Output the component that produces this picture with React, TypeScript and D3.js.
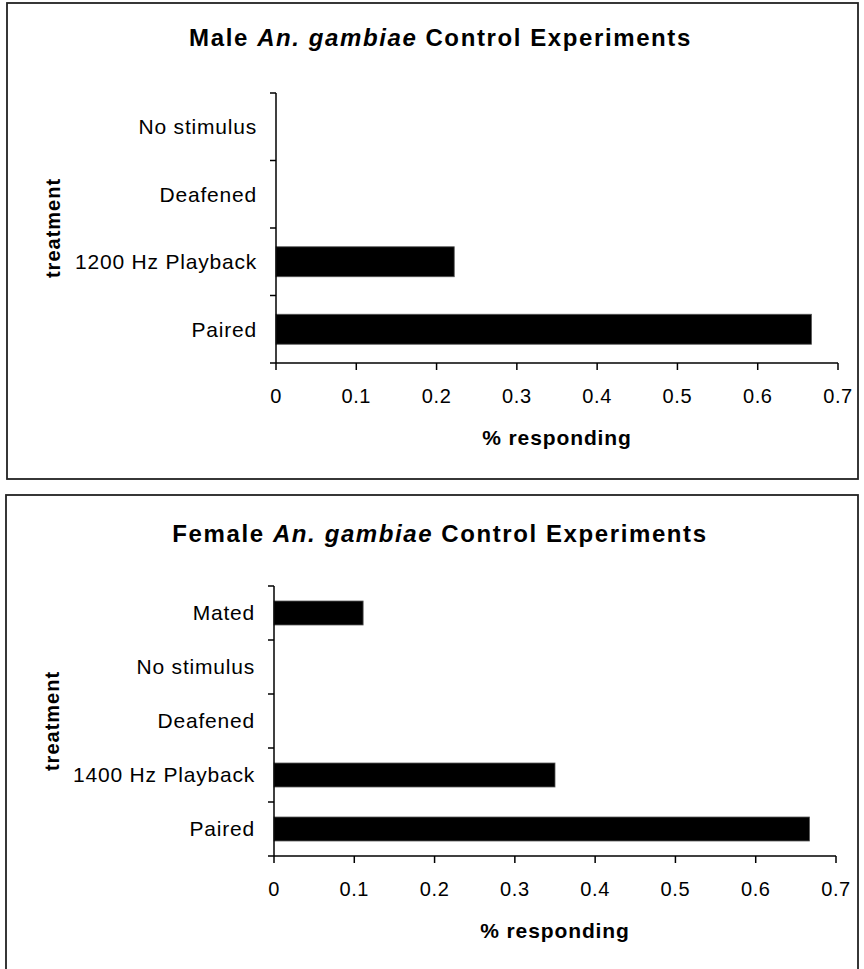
import React from 'react';
import * as d3 from 'd3';

const maleCategories = ['No stimulus', 'Deafened', '1200 Hz Playback', 'Paired'];
const maleValues = [0, 0, 0.222, 0.667];
const femaleCategories = ['Mated', 'No stimulus', 'Deafened', '1400 Hz Playback', 'Paired'];
const femaleValues = [0.111, 0, 0, 0.35, 0.667];
const xTickValues = [0, 0.1, 0.2, 0.3, 0.4, 0.5, 0.6, 0.7];
const xTitle = '% responding';
const yTitle = 'treatment';
const maleTitle = 'Male';
const femaleTitle = 'Female';
const speciesName = 'An. gambiae';
const titleRest = 'Control Experiments';

const FONT = '"Liberation Sans", Arial, sans-serif';

type PanelProps = {
  box: { x: number; y: number; w: number; h: number };
  plot: { x0: number; x1: number; y0: number; y1: number };
  titleY: number;
  sex: string;
  categories: string[];
  values: number[];
};

function Panel({ box, plot, titleY, sex, categories, values }: PanelProps) {
  const x = d3.scaleLinear().domain([0, 0.7]).range([plot.x0, plot.x1]);
  const y = d3
    .scaleBand<string>()
    .domain(categories)
    .range([plot.y0, plot.y1])
    .paddingInner(0.556)
    .paddingOuter(0.278);
  const step = (plot.y1 - plot.y0) / categories.length;
  const boundaries = d3.range(categories.length + 1).map((i) => plot.y0 + i * step);
  const cx = (box.x + box.x + box.w) / 2 + 8;
  return (
    <g>
      <rect x={box.x} y={box.y} width={box.w} height={box.h} fill="#fff" stroke="#222" strokeWidth={1.8} />
      <text x={cx} y={titleY} textAnchor="middle" fontFamily={FONT} fontWeight="bold" fontSize={24} letterSpacing={1.6} fill="#000">
        {sex + ' '}
        <tspan fontStyle="italic">{speciesName}</tspan>
        <tspan dx={8}>{titleRest}</tspan>
      </text>
      {categories.map((c, i) => (
        <rect key={c} x={x(0)} y={y(c)} width={x(values[i]) - x(0)} height={y.bandwidth()} fill="#000" stroke="#555" strokeWidth={0.8} />
      ))}
      <line x1={plot.x0} x2={plot.x0} y1={plot.y0} y2={plot.y1} stroke="#000" strokeWidth={1.5} />
      {boundaries.map((b, i) => (
        <line key={i} x1={plot.x0 - 6} x2={plot.x0} y1={b} y2={b} stroke="#000" strokeWidth={1.5} />
      ))}
      <line x1={plot.x0} x2={plot.x1} y1={plot.y1} y2={plot.y1} stroke="#000" strokeWidth={1.5} />
      {xTickValues.map((t) => (
        <g key={t}>
          <line x1={x(t)} x2={x(t)} y1={plot.y1} y2={plot.y1 + 7} stroke="#000" strokeWidth={1.5} />
          <text x={x(t)} y={plot.y1 + 40} textAnchor="middle" fontFamily={FONT} fontSize={20} letterSpacing={0.6} fill="#000">
            {t === 0 ? '0' : d3.format('.1f')(t)}
          </text>
        </g>
      ))}
      {categories.map((c) => (
        <text key={c} x={plot.x0 - 19} y={(y(c) ?? 0) + y.bandwidth() / 2} dy="0.35em" textAnchor="end" fontFamily={FONT} fontSize={21} letterSpacing={0.8} fill="#000">
          {c}
        </text>
      ))}
      <text x={(plot.x0 + plot.x1) / 2} y={plot.y1 + 82} textAnchor="middle" fontFamily={FONT} fontWeight="bold" fontSize={21} letterSpacing={0.9} fill="#000">
        {xTitle}
      </text>
      <text
        transform={`translate(${box.x + 46},${(plot.y0 + plot.y1) / 2}) rotate(-90)`}
        textAnchor="middle"
        dy="0.35em"
        fontFamily={FONT}
        fontWeight="bold"
        fontSize={20}
        letterSpacing={1}
        fill="#000"
      >
        {yTitle}
      </text>
    </g>
  );
}

export default function App() {
  return (
    <svg width={864} height={969} style={{ position: 'absolute', left: 0, top: 0, background: '#fff' }}>
      <rect x={0} y={0} width={864} height={969} fill="#fff" />
      <Panel
        box={{ x: 7, y: 3, w: 851, h: 476 }}
        plot={{ x0: 276, x1: 838, y0: 93, y1: 363 }}
        titleY={46}
        sex={maleTitle}
        categories={maleCategories}
        values={maleValues}
      />
      <Panel
        box={{ x: 6, y: 495, w: 852, h: 490 }}
        plot={{ x0: 274, x1: 836, y0: 586, y1: 856 }}
        titleY={542}
        sex={femaleTitle}
        categories={femaleCategories}
        values={femaleValues}
      />
    </svg>
  );
}
